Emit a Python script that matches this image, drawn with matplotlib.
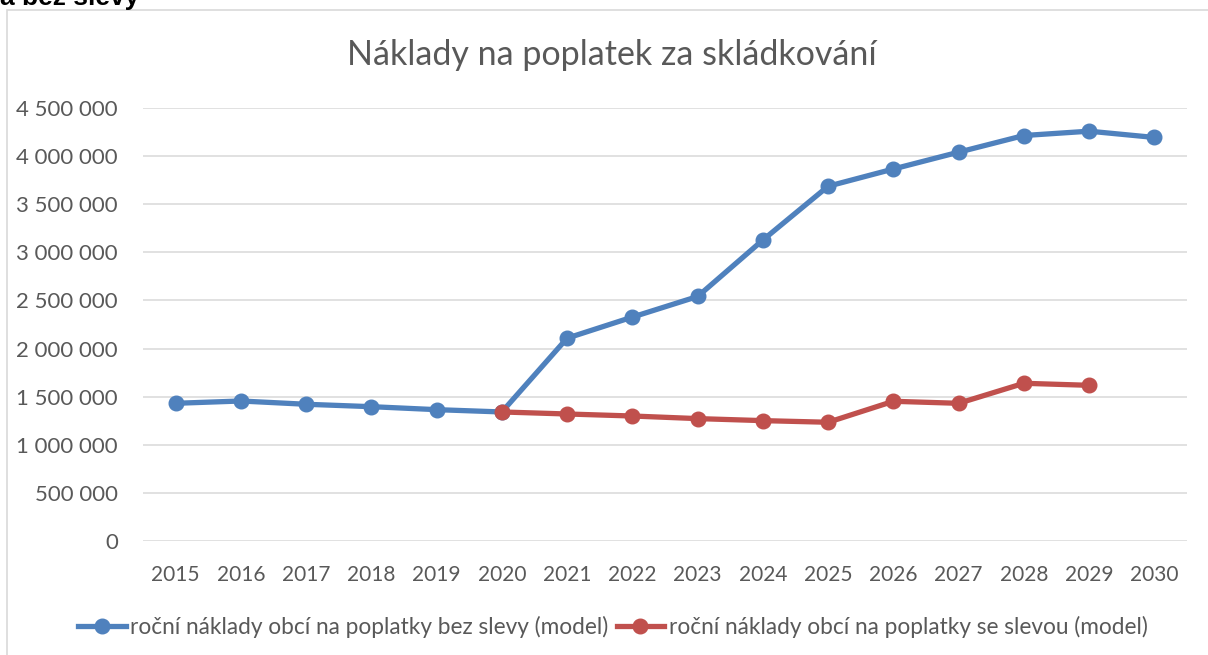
import matplotlib.pyplot as plt
import numpy as np
from matplotlib.patches import Rectangle
from matplotlib.ticker import FuncFormatter

plt.rcParams['font.family'] = ['Lato', 'DejaVu Sans']

years = [str(y) for y in range(2015, 2031)]

# roční náklady bez slevy (model)
bez_slevy = [1431000, 1455000, 1421000, 1396000, 1365000, 1341000,
             2108000, 2327000, 2541000, 3128000, 3687000, 3866000,
             4041000, 4214000, 4259000, 4194000]

# roční náklady se slevou (model), from 2020 to 2029
se_slevou_years = years[5:15]
se_slevou = [1341000, 1320000, 1299000, 1272000, 1251000, 1234000,
             1452000, 1431000, 1639000, 1618000]

blue = '#4F81BD'
red = '#C0504D'
grey_txt = '#595959'
grid_c = '#d9d9d9'

W, H = 1208, 655
fig = plt.figure(figsize=(W/100, H/100), dpi=100)
fig.patch.set_facecolor('white')

# chart frame (only left & top edges are visible in the crop)
fig.patches.append(Rectangle((7/W, -0.05), 1.2, 1 - 10/H + 0.05,
                             transform=fig.transFigure, fill=False,
                             ec=grid_c, lw=1.2))

# heading above the chart, cut off by the top edge like in the source
fig.text(0, 1 - 5/H, 'a bez slevy', family='Liberation Sans',
         fontweight='bold', fontsize=19, va='baseline', ha='left')

ax = fig.add_axes([143/W, 114/H, (1187-143)/W, (541-108)/H])

x = np.arange(len(years))
x_red = x[5:15]

ax.plot(x, bez_slevy, color=blue, lw=3.8, marker='o', ms=10.5,
        label='roční náklady obcí na poplatky bez slevy (model)', zorder=3)
ax.plot(x_red, se_slevou, color=red, lw=3.8, marker='o', ms=10.5,
        label='roční náklady obcí na poplatky se slevou (model)', zorder=4)

ax.set_xlim(-0.5, len(years) - 0.5)
ax.set_ylim(0, 4500000)
ax.set_yticks(np.arange(0, 4500001, 500000))
ax.yaxis.set_major_formatter(FuncFormatter(
    lambda v, p: f'{int(v):,}'.replace(',', ' ')))
ax.set_xticks(x)
ax.set_xticklabels(years)

ax.grid(axis='y', color=grid_c, lw=1.1)
ax.set_axisbelow(True)
for s in ax.spines.values():
    s.set_visible(False)
ax.tick_params(axis='both', length=0, colors=grey_txt)
ax.tick_params(axis='x', pad=17, labelsize=15)
ax.tick_params(axis='y', pad=18, labelsize=16)

fig.text(612/W, 1 - 55/H, 'Náklady na poplatek za skládkování',
         ha='center', va='center', fontsize=24.5, color=grey_txt)

fig.legend(loc='center', bbox_to_anchor=(613/W, 1 - 627/H), ncol=2,
           frameon=False, fontsize=16.3, handlelength=2.1, handletextpad=0.2,
           columnspacing=0.35, labelcolor=grey_txt)

fig.savefig('out.png', dpi=100)
